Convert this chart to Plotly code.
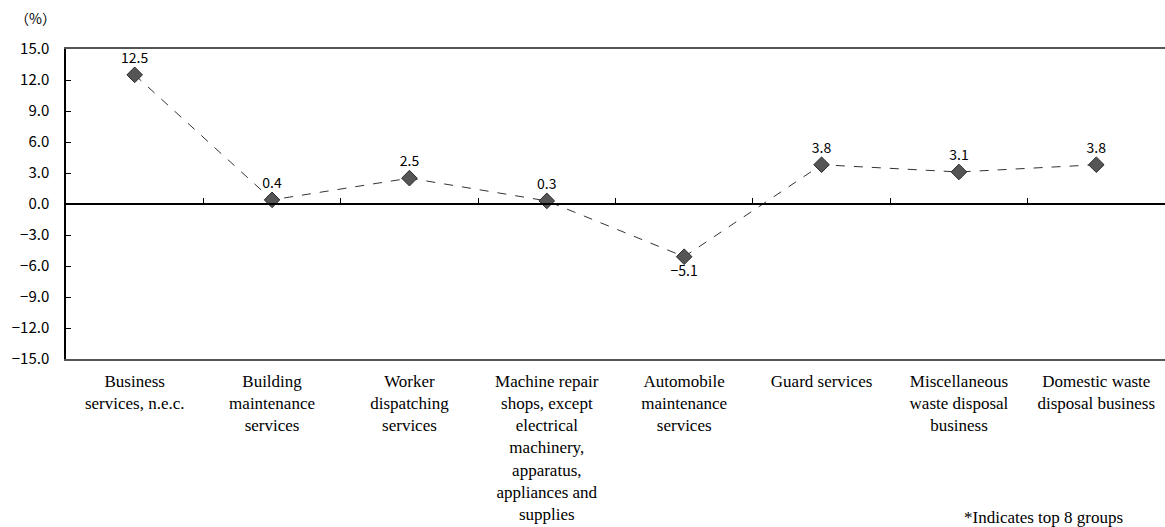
import plotly.graph_objects as go

categories = [
    'Business<br>services, n.e.c.',
    'Building<br>maintenance<br>services',
    'Worker<br>dispatching<br>services',
    'Machine repair<br>shops, except<br>electrical<br>machinery,<br>apparatus,<br>appliances and<br>supplies',
    'Automobile<br>maintenance<br>services',
    'Guard services',
    'Miscellaneous<br>waste disposal<br>business',
    'Domestic waste<br>disposal business',
]
values = [12.5, 0.4, 2.5, 0.3, -5.1, 3.8, 3.1, 3.8]
y_ticks = [15, 12, 9, 6, 3, 0, -3, -6, -9, -12, -15]

idx = list(range(len(categories)))
label_pos = ['bottom center' if v < 0 else 'top center' for v in values]
labels = [('%.1f' % v).replace('-', '\u2212') for v in values]
num_font = "'Noto Sans CJK JP', 'Liberation Sans', sans-serif"
serif = "'Liberation Serif', 'Times New Roman', serif"

fig = go.Figure()

fig.add_trace(go.Scatter(
    x=idx, y=values,
    mode='lines+markers+text',
    line=dict(color='#333333', width=1, dash='dash'),
    marker=dict(symbol='diamond', size=12, color='#555555',
                line=dict(color='#2a2a2a', width=1)),
    text=labels,
    textposition=label_pos,
    textfont=dict(family=num_font, size=14, color='#000000'),
    showlegend=False,
    cliponaxis=False,
))

# invisible trace to carry the zero-line axis
fig.add_trace(go.Scatter(x=idx, y=values, xaxis='x2', mode='none',
                         showlegend=False, hoverinfo='skip'))

fig.update_layout(
    width=1165, height=527,
    margin=dict(l=66, r=0, t=49, b=168, autoexpand=False),
    plot_bgcolor='white', paper_bgcolor='white',
    xaxis=dict(
        range=[-0.5, 7.5],
        tickmode='array', tickvals=idx, ticktext=categories,
        ticks='', showline=True, linecolor='#555555', linewidth=1.5,
        mirror=True, showgrid=False, zeroline=False,
        ticklabelstandoff=6,
        tickfont=dict(family=serif, size=17, color='#000000'),
    ),
    xaxis2=dict(
        range=[-0.5, 7.5], overlaying='x', anchor='free', position=0.5,
        side='bottom',
        tickmode='array', tickvals=[i + 0.5 for i in idx[:-1]],
        ticks='inside', ticklen=5, tickcolor='#000000', tickwidth=1,
        showticklabels=False, showline=True, linecolor='#000000',
        linewidth=1.5, showgrid=False, zeroline=False,
    ),
    yaxis=dict(
        range=[-15, 15],
        tickmode='array', tickvals=y_ticks,
        tickformat='.1f', ticks='inside', ticklen=5, tickcolor='#000000',
        showline=True, linecolor='#000000', linewidth=1.5,
        showgrid=False, zeroline=False, ticklabelstandoff=12,
        tickfont=dict(family=num_font, size=15, color='#000000'),
    ),
    annotations=[
        dict(text='\uff08%\uff09', xref='paper', yref='paper', x=-0.0273, y=1.0,
             yshift=31, xanchor='center', yanchor='middle', showarrow=False,
             font=dict(family=num_font, size=14, color='#000000')),
        dict(text='*Indicates top 8 groups', xref='paper', yref='paper',
             x=0.9636, y=0, yshift=-158, xanchor='right', yanchor='middle',
             showarrow=False,
             font=dict(family=serif, size=17, color='#000000')),
    ],
)

# drop the default 8px body margin so the figure fills the window
fig.write_html('out.html', config={'displayModeBar': False},
               post_script="document.body.style.margin='0';")
